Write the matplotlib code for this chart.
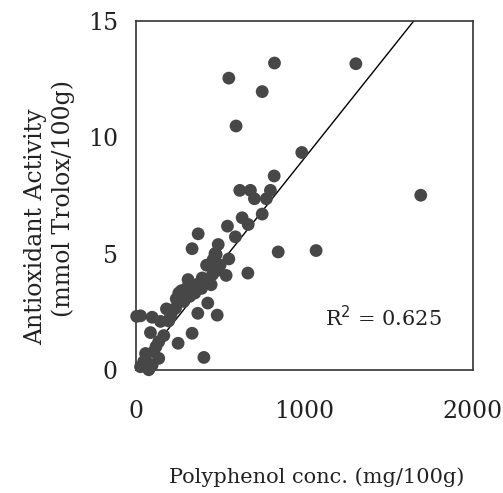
import matplotlib
matplotlib.use("Agg")
import matplotlib.pyplot as plt

# polyphenol (mg/100g) vs antioxidant activity (mmol Trolox/100g)
polyphenol = [823, 1306, 552, 750, 595, 985, 821, 1691, 617, 680, 799, 704, 775,
              750, 631, 667, 544, 591, 370, 334, 489, 477, 459, 552, 845, 1070,
              481, 536, 665, 394, 447, 310, 360, 255, 285, 320, 427, 368, 483,
              182, 236, 206, 28, 97, 147, 334, 251, 87, 166, 136, 404, 58, 107,
              47, 97, 136, 28, 77, 5, 240, 270, 300, 215, 420, 470, 500, 455,
              350, 390, 195, 120, 60]
activity = [13.2, 13.17, 12.55, 11.97, 10.49, 9.35, 8.34, 7.51, 7.72, 7.72, 7.72,
            7.36, 7.36, 6.70, 6.54, 6.25, 6.18, 5.72, 5.85, 5.21, 5.39, 4.96,
            4.74, 4.77, 5.07, 5.13, 4.27, 4.06, 4.16, 3.95, 3.66, 3.88, 3.66,
            3.30, 2.94, 3.16, 2.87, 2.43, 2.35, 2.62, 2.65, 2.29, 2.32, 2.26,
            2.08, 1.57, 1.14, 1.60, 1.47, 1.21, 0.53, 0.70, 0.78, 0.35, 0.20,
            0.49, 0.13, 0.0, 2.30, 3.05, 3.40, 3.50, 2.50, 4.50, 5.00, 4.50,
            4.10, 3.30, 3.50, 2.10, 1.00, 0.40]

slope = 0.0091
intercept = 0.0
r2 = 0.625

plt.rcParams['font.family'] = ['DejaVu Serif']

fig = plt.figure(figsize=(5.03, 4.93), dpi=100)
ax = fig.add_axes([0.270, 0.250, 0.670, 0.707])

ax.scatter(polyphenol, activity, s=85, color='#474747', edgecolors='none',
           zorder=3, clip_on=False)
ax.plot([0, 2000], [intercept, intercept + slope * 2000], color='black', lw=1.0,
        zorder=2)

ax.set_xlim(0, 2000)
ax.set_ylim(0, 14.87)
ax.set_xticks([0, 1000, 2000])
ax.set_yticks([0, 5, 10, 15])
ax.tick_params(length=0, labelsize=17, colors='#222222')
ax.tick_params(axis='x', pad=22)
ax.tick_params(axis='y', pad=13)
for sp in ax.spines.values():
    sp.set_linewidth(1.2)
    sp.set_color('#333333')

ax.text(0.56, 0.125, 'R$^2$ = %.3f' % r2, transform=ax.transAxes, fontsize=15,
        color='#222222')

fig.text(0.63, 0.032, 'Polyphenol conc. (mg/100g)', ha='center', va='center',
         fontsize=15, color='#222222')
fig.text(0.07, 0.540, 'Antioxidant Activity', rotation=90, ha='center',
         va='center', fontsize=17, color='#222222')
fig.text(0.125, 0.598, '(mmol Trolox/100g)', rotation=90, ha='center',
         va='center', fontsize=17, color='#222222')

fig.savefig('out.png', dpi=100)
